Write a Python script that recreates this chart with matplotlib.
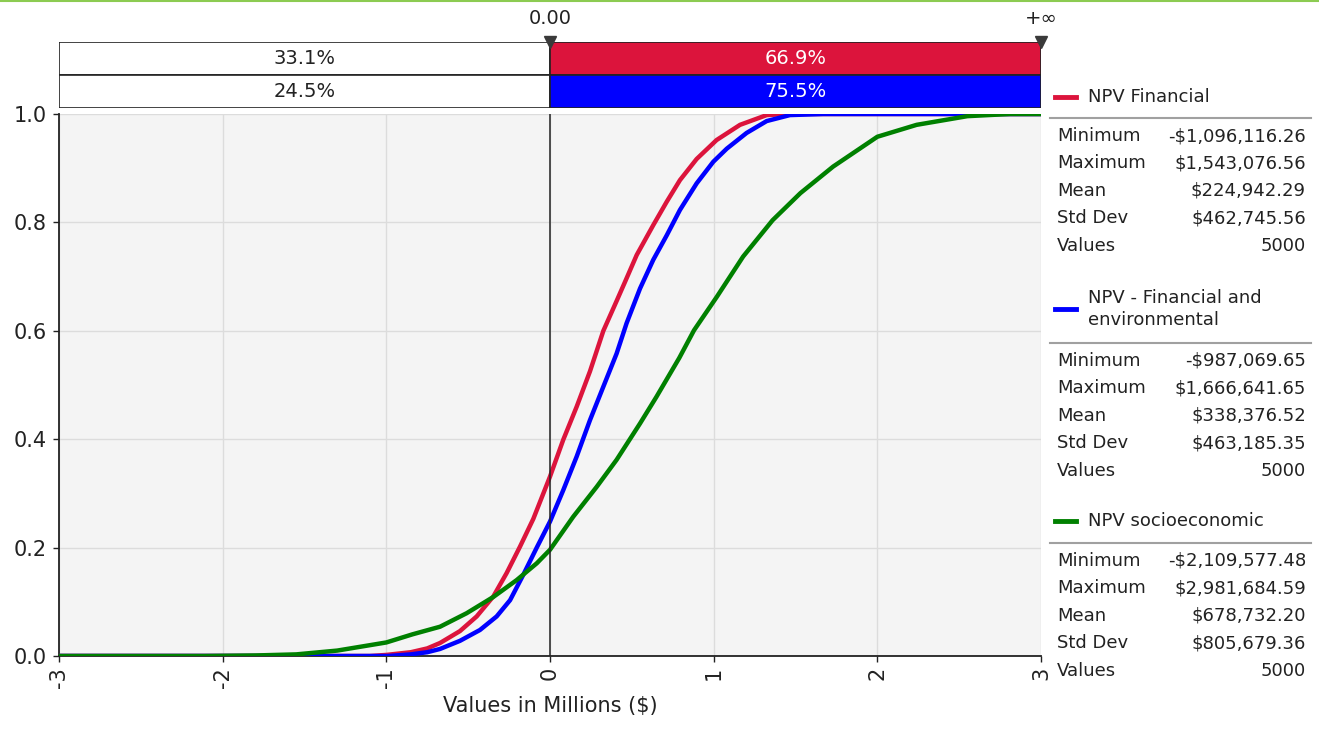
import matplotlib
matplotlib.use("Agg")
import matplotlib.pyplot as plt
import matplotlib.transforms as mtransforms
from matplotlib.lines import Line2D

# ---------------- data ----------------
series_names = ["NPV Financial", "NPV - Financial and\nenvironmental", "NPV socioeconomic"]
series_colors = ["#DC143C", "#0000FF", "#008000"]

# cumulative curves (x in millions $, cumulative probability)
fin_x = [-3.0, -1.10, -1.0, -0.85, -0.75, -0.672, -0.55, -0.448, -0.346, -0.265, -0.183, -0.102, 0.0,
         0.081, 0.163, 0.244, 0.326, 0.407, 0.458, 0.53, 0.631, 0.713, 0.794, 0.896, 1.018, 1.161,
         1.324, 1.45, 3.0]
fin_p = [0.0, 0.0, 0.002, 0.007, 0.014, 0.024, 0.046, 0.073, 0.110, 0.153, 0.202, 0.253, 0.331,
         0.399, 0.460, 0.525, 0.600, 0.655, 0.690, 0.740, 0.795, 0.838, 0.878, 0.917, 0.952, 0.980,
         0.998, 1.0, 1.0]

env_x = [-3.0, -0.99, -0.85, -0.75, -0.672, -0.55, -0.428, -0.326, -0.244, -0.163, -0.081, 0.0,
         0.081, 0.163, 0.244, 0.326, 0.407, 0.468, 0.55, 0.631, 0.713, 0.794, 0.896, 0.998, 1.08,
         1.201, 1.324, 1.466, 1.67, 3.0]
env_p = [0.0, 0.0, 0.003, 0.007, 0.013, 0.028, 0.048, 0.073, 0.103, 0.150, 0.200, 0.248,
         0.306, 0.368, 0.435, 0.497, 0.558, 0.614, 0.678, 0.731, 0.776, 0.823, 0.872, 0.912, 0.936,
         0.965, 0.987, 0.998, 1.0, 1.0]

soc_x = [-3.0, -2.11, -1.8, -1.55, -1.30, -1.0, -0.84, -0.672, -0.509, -0.346, -0.204, -0.081, 0.0,
         0.142, 0.285, 0.407, 0.55, 0.65, 0.79, 0.88, 1.02, 1.18, 1.36, 1.53, 1.73, 2.0, 2.24,
         2.55, 2.81, 3.0]
soc_p = [0.0, 0.0, 0.001, 0.003, 0.010, 0.025, 0.040, 0.054, 0.079, 0.109, 0.140, 0.171, 0.196,
         0.257, 0.312, 0.362, 0.429, 0.478, 0.550, 0.601, 0.663, 0.737, 0.804, 0.854, 0.903, 0.958,
         0.980, 0.996, 1.0, 1.0]

curves_x = [fin_x, env_x, soc_x]
curves_p = [fin_p, env_p, soc_p]

# probability bars (left of 0.00 / right of 0.00)
bar_left_pct = [33.1, 24.5]
bar_right_pct = [66.9, 75.5]
bar_colors = ["#DC143C", "#0000FF"]
marker_labels = ["0.00", "+\u221e"]

# statistics
stat_labels = ["Minimum", "Maximum", "Mean", "Std Dev", "Values"]
fin_stats = [-1096116.26, 1543076.56, 224942.29, 462745.56, 5000]
env_stats = [-987069.65, 1666641.65, 338376.52, 463185.35, 5000]
soc_stats = [-2109577.48, 2981684.59, 678732.20, 805679.36, 5000]
all_stats = [fin_stats, env_stats, soc_stats]

x_ticks = [-3, -2, -1, 0, 1, 2, 3]
y_ticks = [0.0, 0.2, 0.4, 0.6, 0.8, 1.0]

# ---------------- figure ----------------
plt.rcParams["font.family"] = ["DejaVu Sans"]
W, H = 1319, 733
fig = plt.figure(figsize=(W / 100, H / 100), dpi=100)
fig.patch.set_facecolor("white")


def fx(px):
    return px / W


def fy(py):
    return 1 - py / H


# window top border
fig.add_artist(Line2D([0, 1], [fy(1), fy(1)], transform=fig.transFigure, color="#8CCB52", lw=1.5))

ax = fig.add_axes([fx(59), fy(656), fx(1041) - fx(59), fy(114) - fy(656)])
ax.set_facecolor("#F4F4F4")
ax.set_xlim(-3, 3)
ax.set_ylim(0, 1)
ax.set_xticks(x_ticks)
ax.set_xticklabels([str(t) for t in x_ticks], rotation=90)
ax.set_yticks(y_ticks)
ax.set_yticklabels([f"{t:.1f}" for t in y_ticks])
ax.tick_params(axis="both", direction="out", length=4, width=1, colors="#222222", labelsize=15)
ax.tick_params(axis="y", pad=5)
ax.tick_params(axis="x", pad=4)
ax.grid(True, color="#DCDCDC", lw=1)
ax.set_axisbelow(True)
for s in ["top", "right"]:
    ax.spines[s].set_visible(False)
for s in ["left", "bottom"]:
    ax.spines[s].set_color("#222222")
    ax.spines[s].set_linewidth(1.3)
ax.set_xlabel("Values in Millions ($)", fontsize=15, color="#222222", labelpad=6)

for xs, ps, c in zip(curves_x, curves_p, series_colors):
    ax.plot(xs, ps, color=c, lw=3.2, solid_capstyle="butt", solid_joinstyle="round", zorder=3)

ax.axvline(0, color="#222222", lw=1.1, zorder=4)

# ---------------- probability bars ----------------
bax = fig.add_axes([fx(59), fy(108), fx(1041) - fx(59), fy(42) - fy(108)])
bax.set_xlim(-3, 3)
bax.set_ylim(0, 2)
bax.axis("off")
rows_y = [1.5, 0.5]
for yv, lp, rp, c in zip(rows_y, bar_left_pct, bar_right_pct, bar_colors):
    bax.barh(yv, 3, left=-3, height=1, color="white", edgecolor="#222222", lw=1.2)
    bax.barh(yv, 3, left=0, height=1, color=c, edgecolor="#222222", lw=1.2)
    bax.text(-1.5, yv, f"{lp:.1f}%", ha="center", va="center", fontsize=14, color="#222222")
    bax.text(1.5, yv, f"{rp:.1f}%", ha="center", va="center", fontsize=14, color="white")

label_offset = mtransforms.ScaledTranslation(0, 23 / 100, fig.dpi_scale_trans)
for xv, lab in zip([0, 3], marker_labels):
    bax.plot([xv], [2.0], marker="v", markersize=9, color="#3A3A3A", clip_on=False, zorder=5)
    bax.text(xv, 2.0, lab, ha="center", va="center", fontsize=14, color="#222222",
             transform=bax.transData + label_offset)

# ---------------- legend / statistics panel ----------------
name_y = [97, 309, 521]
sep_y = [118, 343, 543]
row0_y = [136, 361, 561]
row_step = 27.4


def fmt_money(v):
    s = f"${abs(v):,.2f}"
    return "-" + s if v < 0 else s


for name, c, ny, sy, r0, stats in zip(series_names, series_colors, name_y, sep_y, row0_y, all_stats):
    fig.add_artist(Line2D([fx(1055), fx(1076)], [fy(ny), fy(ny)], transform=fig.transFigure,
                          color=c, lw=3.5))
    fig.text(fx(1088), fy(ny), name, ha="left", va="center", fontsize=13, color="#222222",
             linespacing=1.3)
    fig.add_artist(Line2D([fx(1050), fx(1311)], [fy(sy), fy(sy)], transform=fig.transFigure,
                          color="#A0A0A0", lw=1.5))
    for i, (lab, val) in enumerate(zip(stat_labels, stats)):
        yy = fy(r0 + i * row_step)
        fig.text(fx(1057), yy, lab, ha="left", va="center", fontsize=13, color="#222222")
        vtxt = str(val) if lab == "Values" else fmt_money(val)
        fig.text(fx(1306), yy, vtxt, ha="right", va="center", fontsize=13, color="#222222")

fig.savefig("out.png", dpi=100)
